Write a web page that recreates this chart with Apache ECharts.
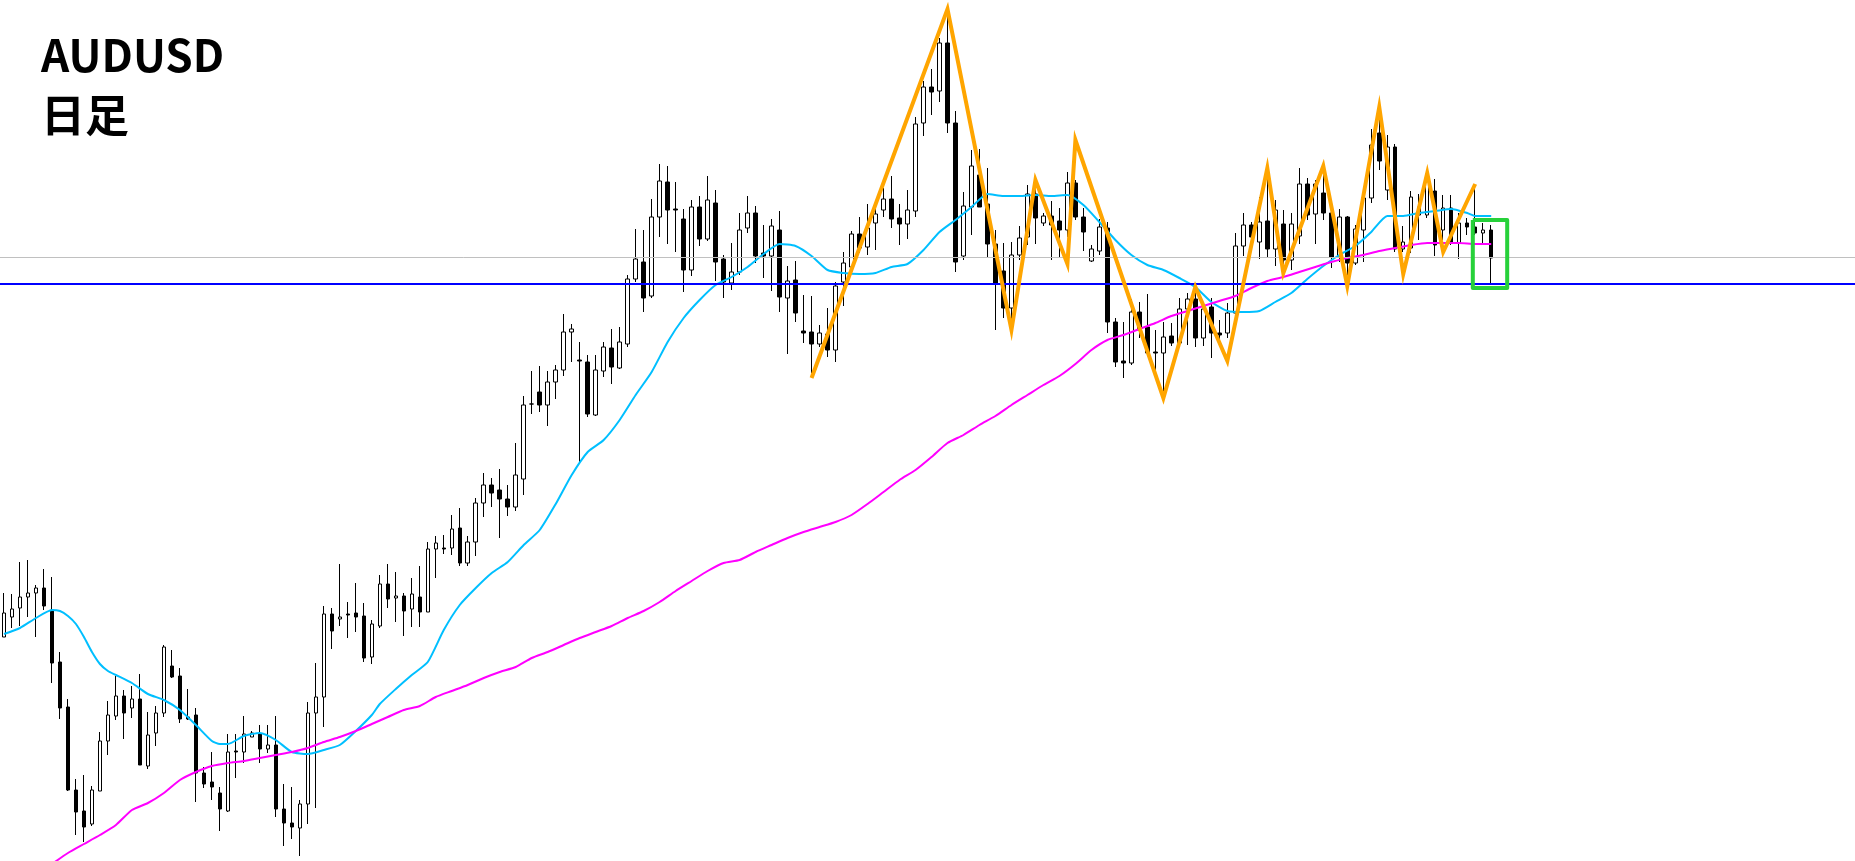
<!DOCTYPE html>
<html>
<head>
<meta charset="utf-8">
<script src="https://cdn.jsdelivr.net/npm/echarts@6/dist/echarts.min.js"></script>
<style>
html,body{margin:0;padding:0;background:#fff;}
#chart{width:1855px;height:861px;}
</style>
</head>
<body>
<div id="chart"></div>
<script>
// Prices are given as AUDUSD x 10000 (e.g. 6263 = 0.6263)
const slotCount = 232; // daily slots on the x axis (candles + empty space on the right)
const categories = Array.from({length: slotCount}, (_, i) => 'D' + (i + 1));

const openP = [6263,6283,6292,6303,6307,6312,6290,6238,6193,6110,
6089,6076,6109,6159,6184,6204,6192,6201,6134,6167,
6187,6234,6224,6183,6185,6127,6118,6107,6089,6149,
6148,6163,6166,6151,6155,6091,6077,6072,6096,6187,
6203,6286,6281,6286,6287,6284,6243,6274,6316,6302,
6304,6291,6303,6288,6351,6352,6352,6372,6337,6358,
6397,6415,6410,6401,6393,6421,6496,6508,6495,6518,
6530,6568,6540,6538,6485,6529,6552,6532,6556,6621,
6638,6604,6683,6718,6691,6681,6630,6693,6661,6697,
6641,6617,6628,6672,6687,6647,6644,6670,6602,6620,
6569,6568,6556,6566,6550,6618,6633,6666,6653,6677,
6690,6701,6682,6676,6689,6777,6813,6809,6857,6777,
6644,6693,6725,6696,6656,6629,6592,6645,6663,6706,
6677,6684,6679,6670,6717,6683,6639,6649,6672,6578,
6539,6537,6588,6573,6548,6547,6564,6557,6591,6601,
6562,6593,6567,6567,6587,6654,6675,6658,6679,6651,
6676,6640,6664,6716,6686,6707,6687,6643,6683,6637,
6670,6702,6767,6710,6753,6651,6652,6685,6685,6709,
6670,6692,6657,6677,6673,6667,6670];

const closeP = [6287,6291,6303,6307,6312,6294,6237,6192,6110,6088,
6073,6110,6159,6185,6204,6187,6201,6135,6165,6187,
6253,6223,6181,6181,6127,6116,6113,6091,6148,6148,
6166,6167,6151,6155,6091,6077,6073,6096,6187,6203,
6286,6269,6283,6285,6283,6242,6276,6316,6301,6304,
6289,6306,6288,6351,6357,6351,6371,6337,6358,6397,
6415,6407,6401,6393,6425,6495,6496,6495,6518,6530,
6568,6571,6539,6486,6530,6553,6533,6558,6621,6641,
6602,6683,6719,6690,6690,6630,6693,6661,6700,6638,
6618,6628,6670,6687,6644,6644,6674,6603,6619,6587,
6567,6556,6567,6550,6614,6637,6666,6652,6672,6686,
6701,6681,6676,6690,6776,6813,6808,6857,6777,6638,
6694,6734,6693,6656,6617,6592,6645,6662,6706,6682,
6684,6675,6670,6717,6683,6668,6651,6673,6578,6538,
6537,6588,6570,6547,6547,6563,6557,6591,6601,6562,
6591,6567,6565,6587,6654,6675,6663,6678,6651,6690,
6640,6676,6716,6685,6716,6687,6643,6683,6637,6671,
6702,6755,6739,6753,6651,6658,6703,6693,6726,6655,
6692,6658,6677,6673,6667,6670,6642];

const highP = [6307,6306,6338,6340,6315,6331,6323,6248,6201,6121,
6125,6114,6168,6199,6224,6210,6214,6226,6188,6194,
6255,6250,6232,6211,6192,6133,6148,6113,6166,6166,
6184,6169,6175,6175,6184,6116,6113,6100,6198,6237,
6294,6292,6336,6298,6317,6297,6280,6325,6336,6328,
6307,6322,6334,6358,6364,6365,6385,6392,6364,6402,
6427,6422,6431,6415,6457,6504,6529,6534,6529,6535,
6586,6576,6558,6545,6545,6558,6571,6573,6625,6671,
6670,6701,6736,6734,6718,6691,6700,6704,6724,6710,
6645,6657,6687,6704,6694,6675,6681,6689,6634,6639,
6605,6604,6575,6592,6618,6648,6669,6683,6696,6697,
6712,6724,6696,6710,6783,6819,6831,6862,6892,6789,
6708,6750,6751,6732,6670,6657,6658,6674,6715,6717,
6687,6699,6692,6728,6720,6692,6655,6681,6678,6582,
6578,6601,6598,6606,6570,6578,6577,6602,6607,6615,
6597,6602,6580,6597,6667,6687,6678,6703,6730,6700,
6690,6687,6732,6722,6720,6733,6692,6691,6684,6675,
6703,6771,6795,6765,6756,6674,6709,6706,6730,6721,
6705,6705,6687,6682,6711,6677,6675];

const lowP = [6263,6272,6274,6283,6263,6290,6217,6181,6109,6065,
6058,6074,6109,6145,6180,6161,6182,6135,6131,6154,
6183,6222,6177,6180,6098,6112,6100,6069,6088,6122,
6137,6163,6137,6147,6083,6054,6061,6044,6076,6092,
6173,6251,6274,6262,6268,6238,6236,6272,6292,6278,
6264,6273,6273,6288,6322,6346,6345,6334,6334,6344,
6383,6393,6362,6384,6389,6405,6486,6488,6474,6501,
6524,6538,6437,6483,6484,6523,6516,6531,6553,6618,
6588,6602,6663,6656,6648,6608,6624,6654,6659,6619,
6602,6610,6625,6667,6637,6622,6609,6588,6546,6578,
6557,6527,6553,6543,6538,6594,6628,6647,6645,6650,
6683,6672,6655,6661,6683,6764,6785,6798,6767,6628,
6640,6665,6693,6643,6570,6582,6570,6640,6655,6656,
6674,6640,6643,6663,6680,6649,6638,6645,6567,6533,
6522,6535,6562,6545,6522,6497,6554,6555,6555,6553,
6554,6542,6558,6562,6586,6644,6655,6641,6643,6634,
6635,6630,6656,6680,6656,6680,6632,6638,6625,6635,
6638,6697,6730,6700,6648,6648,6647,6660,6682,6644,
6660,6655,6641,6665,6665,6655,6617];

// short moving average (cyan): [day index, value]
const maFast = [[0,6266],[2,6272],[4,6282],[6,6290],[7,6289],[8,6284],[9,6276],[10,6263],[11,6248],[12,6236],
[13,6229],[14,6225],[16,6217],[18,6206],[20,6200],[22,6190],[24,6175],[26,6159],[27,6156],[28,6156],
[30,6164],[32,6167],[34,6160],[36,6148],[38,6146],[40,6150],[42,6155],[44,6169],[46,6185],[47,6196],
[49,6211],[51,6225],[53,6238],[55,6270],[57,6295],[59,6312],[61,6327],[63,6338],[65,6355],[67,6370],
[69,6396],[71,6425],[73,6448],[75,6460],[77,6480],[79,6505],[81,6528],[83,6558],[85,6582],[87,6600],
[89,6615],[91,6623],[93,6633],[95,6646],[97,6656],[99,6654],[101,6644],[103,6630],[105,6627],[107,6626],
[109,6627],[111,6633],[113,6636],[115,6650],[117,6668],[119,6680],[121,6693],[123,6706],[125,6704],[127,6704],
[129,6705],[131,6704],[133,6705],[135,6695],[137,6678],[139,6660],[141,6645],[143,6635],[145,6630],[147,6622],
[149,6613],[151,6598],[153,6589],[155,6588],[157,6589],[159,6598],[161,6607],[163,6621],[165,6634],[167,6645],
[169,6654],[171,6668],[173,6684],[175,6684],[177,6687],[179,6689],[181,6691],[183,6687],[184,6684],[186,6684]];

// long moving average (magenta): [day index, value]
const maSlow = [[6,6036],[8,6047],[10,6056],[12,6065],[14,6075],[16,6090],[18,6097],[20,6107],[22,6120],[24,6128],
[26,6134],[28,6137],[30,6139],[32,6142],[34,6145],[36,6148],[38,6152],[40,6158],[42,6163],[44,6169],
[46,6176],[48,6183],[50,6190],[52,6194],[54,6203],[56,6209],[58,6215],[60,6222],[62,6228],[64,6233],
[66,6242],[68,6248],[70,6255],[72,6262],[74,6268],[76,6274],[78,6282],[80,6289],[82,6298],[84,6309],
[86,6319],[88,6329],[90,6337],[92,6340],[94,6348],[96,6355],[98,6362],[100,6368],[102,6373],[104,6378],
[106,6385],[108,6396],[110,6408],[112,6420],[114,6430],[116,6443],[118,6457],[120,6465],[122,6475],[124,6484],
[126,6495],[128,6505],[130,6515],[132,6524],[134,6536],[136,6550],[138,6560],[140,6565],[142,6571],[144,6577],
[146,6584],[148,6589],[150,6594],[152,6599],[154,6604],[156,6612],[158,6619],[160,6623],[162,6628],[164,6633],
[166,6638],[168,6642],[170,6645],[172,6649],[174,6652],[176,6655],[178,6657],[180,6657],[182,6657],[184,6656],
[186,6656]];

// orange zigzag swing points: [day index, price]
const zigzag = [[101,6522],[118,6891],[126,6570],[129,6720],[133,6636],[134,6760],[145,6502],[149,6613],[153,6539],
[158,6732],[160,6627],[165,6734],[168,6614],[172,6793],[175,6626],[178,6727],[180,6648],[184,6716]];

// horizontal levels
const supportLevel = 6616;   // blue line
const referenceLevel = 6643; // grey line

// green highlight box around the latest candles: [day from, day to], [price top, price bottom]
const boxDays = [183.7, 188.0];
const boxPrices = [6680, 6612];

const yMin = 6039, yMax = 6900;

const candleData = openP.map((o, i) => [o, closeP[i], lowP[i], highP[i]]);
const boxData = [
  [boxDays[0], boxPrices[0]], [boxDays[1], boxPrices[0]],
  [boxDays[1], boxPrices[1]], [boxDays[0], boxPrices[1]], [boxDays[0], boxPrices[0]]
];

const chart = echarts.init(document.getElementById('chart'), null, {renderer: 'canvas'});
chart.setOption({
  animation: false,
  backgroundColor: '#ffffff',
  title: {
    text: 'AUDUSD\n日足',
    left: 41, top: 25, padding: 0,
    textStyle: {fontFamily: 'Noto Sans CJK JP', fontWeight: 'bold', fontSize: 44, lineHeight: 60, color: '#000000'}
  },
  grid: {left: 0, right: 0, top: 0, bottom: 0},
  xAxis: [
    {type: 'category', data: categories, boundaryGap: true, show: false},
    {type: 'value', min: -0.5, max: slotCount - 0.5, show: false}
  ],
  yAxis: {type: 'value', min: yMin, max: yMax, show: false, splitLine: {show: false}},
  series: [
    {
      type: 'line', xAxisIndex: 1, data: [], z: 1, silent: true,
      markLine: {silent: true, symbol: 'none', label: {show: false}, animation: false,
        lineStyle: {color: '#c0c0c0', width: 1, type: 'solid'}, data: [{yAxis: referenceLevel}]}
    },
    {
      type: 'candlestick', xAxisIndex: 0, data: candleData, z: 2, barWidth: 4,
      itemStyle: {color: '#ffffff', color0: '#000000', borderColor: '#000000', borderColor0: '#000000', borderColorDoji: '#000000', borderWidth: 1}
    },
    {
      type: 'line', xAxisIndex: 1, data: maFast, z: 3, showSymbol: false, smooth: 0.2,
      lineStyle: {color: '#00bfff', width: 2}
    },
    {
      type: 'line', xAxisIndex: 1, data: maSlow, z: 3, showSymbol: false, smooth: 0.2,
      lineStyle: {color: '#ff00ff', width: 2}
    },
    {
      type: 'line', xAxisIndex: 1, data: [], z: 4, silent: true,
      markLine: {silent: true, symbol: 'none', label: {show: false}, animation: false,
        lineStyle: {color: '#0000ff', width: 2, type: 'solid'}, data: [{yAxis: supportLevel}]}
    },
    {
      type: 'line', xAxisIndex: 1, data: zigzag, z: 5, showSymbol: false,
      lineStyle: {color: '#ffa500', width: 4, join: 'miter'}
    },
    {
      type: 'line', xAxisIndex: 1, data: boxData, z: 6, showSymbol: false,
      lineStyle: {color: '#27d13a', width: 4, join: 'round'}
    }
  ]
});
</script>
</body>
</html>
